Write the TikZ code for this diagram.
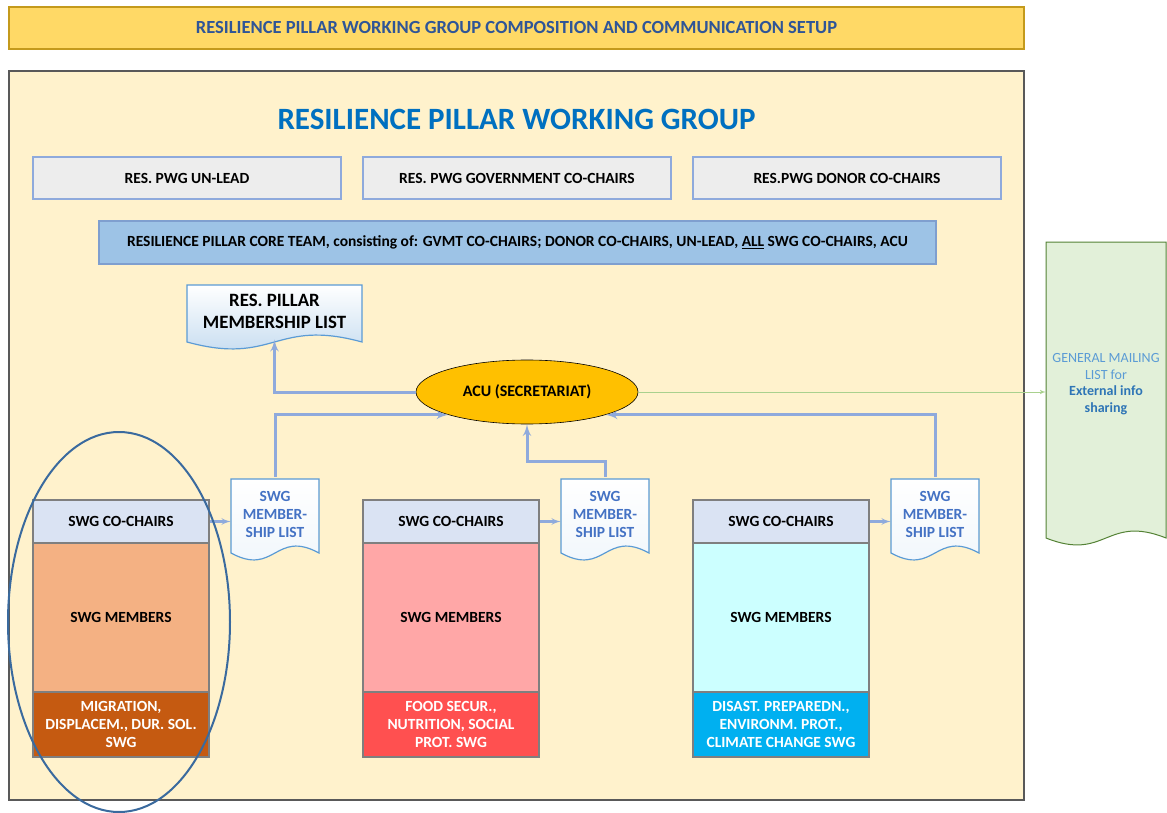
\documentclass[tikz,border=0pt]{standalone}
\usepackage{fontspec}
\setmainfont{Carlito}
\usepackage{tikz}
\usetikzlibrary{shapes.geometric,arrows}
\definecolor{black}{RGB}{0,0,0}
\definecolor{banner_yellow}{HTML}{FFD966}
\definecolor{banner_edge}{HTML}{C49A1C}
\definecolor{banner_text}{HTML}{2F5597}
\definecolor{panel_cream}{HTML}{FFF2CC}
\definecolor{panel_edge}{HTML}{595959}
\definecolor{title_blue}{HTML}{0070C0}
\definecolor{lead_grey}{HTML}{EDEDED}
\definecolor{lead_edge}{HTML}{8FAADC}
\definecolor{core_blue}{HTML}{9DC3E6}
\definecolor{core_edge}{HTML}{7F9FCF}
\definecolor{list_blue}{HTML}{BDD7EE}
\definecolor{list_edge}{HTML}{5B9BD5}
\definecolor{list_text}{HTML}{4472C4}
\definecolor{acu_gold}{HTML}{FFC000}
\definecolor{flow_blue}{HTML}{8FAADC}
\definecolor{mail_green}{HTML}{A9D18E}
\definecolor{mail_fill}{HTML}{E2F0D9}
\definecolor{mail_edge}{HTML}{548235}
\definecolor{mail_text}{HTML}{5B9BD5}
\definecolor{mail_bold}{HTML}{2E75B6}
\definecolor{chair_lilac}{HTML}{DAE3F3}
\definecolor{box_edge}{HTML}{7F7F7F}
\definecolor{mig_light}{HTML}{F4B183}
\definecolor{mig_dark}{HTML}{C55A11}
\definecolor{food_light}{HTML}{FFA7A7}
\definecolor{food_dark}{HTML}{FF5050}
\definecolor{dis_light}{HTML}{CCFFFF}
\definecolor{dis_dark}{HTML}{00B0F0}
\definecolor{ring_blue}{HTML}{3A6A9E}

% wavy document outline: x1,y1 (top left), x2,y2 (bottom right ends)
\newcommand{\docshape}[5][]{%
	\draw[#1] (#2,#3) -- (#4,#3) -- (#4,#5)
		.. controls ({(#2+#4)/2},{#5-24}) and ({(#2+#4)/2},{#5+24}) .. (#2,#5) -- cycle;}

\begin{document}
\begin{tikzpicture}[x=1pt,y=-1pt,
	leadbox/.style={draw=lead_edge,line width=1.3pt,fill=lead_grey,minimum width=308,minimum height=42,font=\bfseries\fontsize{15.5}{18}\selectfont},
	chairbox/.style={draw=box_edge,line width=1.5pt,fill=chair_lilac,minimum width=176,minimum height=43,font=\bfseries\fontsize{15.5}{18}\selectfont},
	memberbox/.style={draw=box_edge,line width=1.5pt,minimum width=176,minimum height=149,font=\bfseries\fontsize{15.5}{18}\selectfont},
	swgbox/.style={draw=box_edge,line width=1.5pt,minimum width=176,minimum height=65,text=white,align=center,font=\bfseries\fontsize{15.5}{18}\selectfont},
	listtext/.style={minimum width=88,minimum height=74,text=list_text,align=center,font=\bfseries\fontsize{15.5}{18}\selectfont},
	listshape/.style={draw=list_edge,line width=1.2pt,top color=white,bottom color=white!75!list_blue},
	flowline/.style={draw=flow_blue,line width=3pt,-latex'},
	smallflow/.style={draw=flow_blue,line width=2.2pt,-latex'}]
	\useasboundingbox (0,0) rectangle (1167,813);

	% header and panel
	\node[draw=banner_edge,line width=1.2pt,fill=banner_yellow,minimum width=1015,minimum height=42,text=banner_text,font=\bfseries\fontsize{18.5}{21}\selectfont] (banner) at (516.5,28) {RESILIENCE PILLAR WORKING GROUP COMPOSITION AND COMMUNICATION SETUP};
	\draw[draw=panel_edge,line width=2pt,fill=panel_cream] (9,71) rectangle (1024,800);
	\node[text=title_blue,font=\bfseries\fontsize{31}{34}\selectfont] (title) at (516.5,119) {RESILIENCE PILLAR WORKING GROUP};

	\node[leadbox] (unlead) at (187,178) {RES. PWG UN-LEAD};
	\node[leadbox] (gov) at (517,178) {RES. PWG GOVERNMENT CO-CHAIRS};
	\node[leadbox] (donor) at (847,178) {RES.PWG DONOR CO-CHAIRS};
	\node[draw=core_edge,line width=1.3pt,fill=core_blue,minimum width=837,minimum height=43,font=\bfseries\fontsize{15.5}{18}\selectfont] (core) at (517.5,242.5) {RESILIENCE PILLAR CORE TEAM, consisting of: GVMT CO-CHAIRS; DONOR CO-CHAIRS, UN-LEAD, \underline{ALL} SWG CO-CHAIRS, ACU};

	% membership lists
	\docshape[draw=list_edge,line width=1.2pt,top color=white,bottom color=list_blue]{187}{285}{362}{342}
	\node[minimum width=175,minimum height=57,align=center,font=\bfseries\fontsize{18.8}{22}\selectfont] (mlist) at (274.5,311) {RES. PILLAR\\MEMBERSHIP LIST};

	\docshape[draw=mail_edge,line width=1pt,fill=mail_fill]{1046}{242}{1166}{538}
	\node[minimum width=120,minimum height=282,align=center,text=mail_text,font=\fontsize{14}{16.7}\selectfont] (gml) at (1106,384) {GENERAL MAILING\\LIST for\\\textcolor{mail_bold}{\bfseries External info}\\\textcolor{mail_bold}{\bfseries sharing}};

	\node[ellipse,draw=black,line width=0.6pt,fill=acu_gold,minimum width=222,minimum height=64,font=\bfseries\fontsize{16}{18}\selectfont] (acu) at (527,392) {ACU (SECRETARIAT)};

	% the three sector working groups
	\foreach \n/\x/\light/\dark/\name in {1/121/mig_light/mig_dark/{MIGRATION,\\DISPLACEM., DUR. SOL.\\SWG},
		2/451/food_light/food_dark/{FOOD SECUR.,\\NUTRITION, SOCIAL\\PROT. SWG},
		3/781/dis_light/dis_dark/{DISAST. PREPAREDN.,\\ENVIRONM. PROT.,\\CLIMATE CHANGE SWG}}
	{
		\node[memberbox,fill=\light] (mem\n) at (\x,617.5) {SWG MEMBERS};
		\node[chairbox] (chair\n) at (\x,521.5) {SWG CO-CHAIRS};
		\node[swgbox,fill=\dark] (swg\n) at (\x,724.5) {\name};
		\docshape[listshape]{\x+110}{479}{\x+198}{553}
		\node[listtext] (slist\n) at (\x+154,514) {SWG\\MEMBER-\\SHIP LIST};
		\draw[smallflow] (chair\n.east) -- (slist\n.west |- chair\n.east);
	}

	% communication lines
	\draw[flowline] (acu.west) -| (mlist.south);
	\draw[flowline] (slist1.north) |- (acu.south west);
	\draw[flowline] (slist3.north) |- (acu.south east);
	\draw[flowline] (slist2.north) -- ++(0,-15) -| (acu.south);
	\draw[draw=mail_green,line width=1pt,-latex'] (acu.east) -- (acu.east -| gml.west);

	\node[ellipse,draw=ring_blue,line width=2pt,minimum width=222,minimum height=380] (focus) at (119,622) {};
\end{tikzpicture}
\end{document}
